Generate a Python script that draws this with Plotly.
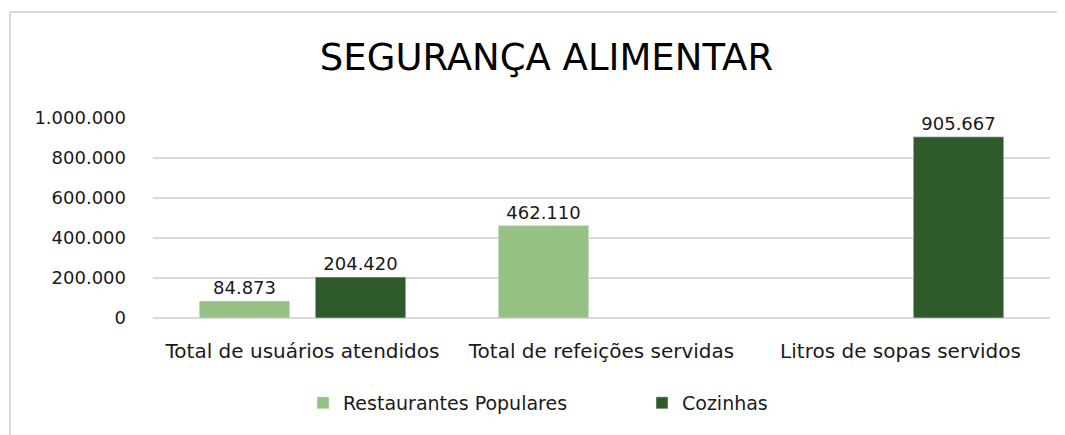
import plotly.graph_objects as go

categories = ["Total de usuários atendidos", "Total de refeições servidas", "Litros de sopas servidos"]
restaurantes = [84873, 462110, None]
cozinhas = [204420, None, 905667]
y_ticks = [0, 200000, 400000, 600000, 800000, 1000000]

# page body has an 8px margin; figure coordinates are screen coordinates minus 8
OFF = 8
W, H = 1065 - OFF, 435 - OFF
L, T = 153 - OFF, 118 - OFF
PR, PB = 1050 - OFF, 318 - OFF
R, B = W - PR, H - PB
pw, ph = PR - L, PB - T

def sx(px):  # screen x -> paper x
    return (px - OFF - L) / pw

def sy(py):  # screen y -> paper y
    return (PB - (py - OFF)) / ph

font = "DejaVu Sans"
txt = "#1a1a1a"

fig = go.Figure()
fig.add_trace(go.Bar(
    name="Restaurantes Populares", x=categories, y=restaurantes,
    marker_color="#95c282", texttemplate="%{y:,d}", textposition="outside",
    textfont=dict(size=18, color=txt, family=font), cliponaxis=False,
))
fig.add_trace(go.Bar(
    name="Cozinhas", x=categories, y=cozinhas,
    marker_color="#2e5a2c", texttemplate="%{y:,d}", textposition="outside",
    textfont=dict(size=18, color=txt, family=font), cliponaxis=False,
))

fig.update_layout(
    width=W, height=H,
    margin=dict(l=L, r=R, t=T, b=B, autoexpand=False),
    paper_bgcolor="white", plot_bgcolor="white",
    separators=",.",
    barmode="group", bargap=0.224, bargroupgap=0.22,
    font=dict(family=font, color=txt, size=18),
    title=dict(text="SEGURANÇA ALIMENTAR", x=(546.5 - OFF) / W, xanchor="center",
               y=1 - (57 - OFF) / H, yanchor="middle", yref="container",
               font=dict(size=37, family=font, color="#000000")),
    legend=dict(orientation="h", x=sx(303), xanchor="left",
                y=sy(403), yanchor="middle",
                entrywidth=294, entrywidthmode="pixels",
                font=dict(size=19, family=font, color=txt)),
    showlegend=True,
)
fig.update_yaxes(range=[0, 1000000], tickvals=y_ticks, tickformat=",d",
                 showgrid=True, gridcolor="#d9d9d9", gridwidth=2,
                 zeroline=True, zerolinecolor="#d9d9d9", zerolinewidth=2,
                 showline=False, ticklabelstandoff=26, automargin=False,
                 tickfont=dict(size=18, family=font, color=txt))
fig.update_xaxes(showline=False, showgrid=False, ticks="", ticklabelstandoff=19,
                 automargin=False,
                 tickfont=dict(size=20, family=font, color=txt))

fig.add_shape(type="line", xref="paper", yref="paper",
              x0=sx(10), x1=sx(10), y0=sy(12), y1=sy(445),
              line=dict(color="#d9d9d9", width=2))
fig.add_shape(type="line", xref="paper", yref="paper",
              x0=sx(10), x1=sx(1075), y0=sy(12), y1=sy(12),
              line=dict(color="#d9d9d9", width=2))

fig.write_html("out.html")
